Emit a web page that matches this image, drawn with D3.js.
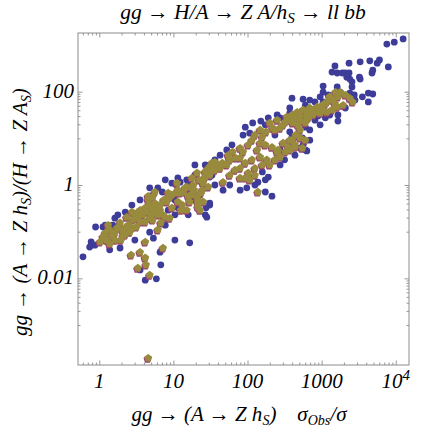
<!DOCTYPE html>
<html><head><meta charset="utf-8">
<script src="https://cdn.jsdelivr.net/npm/d3@7"></script>
<style>
body{margin:0;background:#fff}
svg text{font-family:"Liberation Serif","Times New Roman",Tinos,"Noto Serif","DejaVu Serif",FreeSerif,serif;font-style:italic;fill:#000}
</style>
</head><body><svg id="c" width="443" height="432"></svg>
<script>
// log10 of the values
const blueLogX = [3.88,3.98,4.10,3.18,3.37,3.52,3.65,3.78,3.75,3.90,3.69,3.68,3.14,3.21,3.28,3.32,3.37,3.34,3.38,3.41,3.51,3.52,3.02,3.21,3.41,3.02,3.09,3.25,3.38,3.44,3.55,3.63,3.69,3.63,3.45,2.60,2.75,2.84,2.91,3.02,2.61,2.75,2.91,2.95,3.22,3.22,2.74,2.61,2.75,2.80,2.71,2.60,2.78,1.97,2.07,2.18,1.94,2.37,2.57,2.61,2.28,2.40,2.57,2.71,2.78,1.72,1.29,1.56,1.49,2.20,2.28,2.14,1.99,2.24,2.33,1.49,1.43,1.67,1.18,1.09,0.98,0.79,0.85,0.68,0.66,1.52,1.49,1.45,1.02,1.22,0.21,0.93,1.04,1.20,-0.05,0.05,0.18,-0.11,-0.13,-0.22,-0.06,0.77,0.63,0.52,0.55,1.06,1.02,1.22,0.73,0.82,0.83,0.62,0.77,0.55,1.44,1.29,2.50,2.44,
  0.08,0.25,0.35,0.44,0.55,0.68,0.89,1.06,1.29,1.43,1.63,1.79,2.03,2.24,2.44,2.57,2.78,2.98,0.14,0.28,0.48,0.68,0.89,1.02,1.20,1.36,1.56,1.76,1.90,2.10,2.24,2.44,2.64,2.84,2.98,3.11,3.32,2.84,3.05];
const blueLogY = [3.02,3.06,3.13,2.55,2.61,2.64,2.66,2.68,2.61,2.53,2.46,2.40,2.42,2.40,2.40,2.40,2.40,2.31,2.27,2.21,2.31,2.27,2.12,2.10,2.10,1.99,1.93,1.99,1.97,1.93,1.89,1.97,1.95,1.78,1.82,1.86,1.84,1.82,1.78,1.78,1.44,1.33,1.39,1.48,1.50,1.37,1.01,0.90,0.86,0.73,0.79,1.03,0.75,1.24,1.33,1.37,1.07,1.07,1.14,0.92,1.44,1.50,1.54,1.46,1.24,0.75,0.43,0.54,0.17,0.28,0.17,0.06,-0.06,-0.15,-0.24,-0.43,-0.64,-0.11,0.11,0.06,0.04,-0.06,-0.15,-0.24,-0.36,0.21,-0.39,-0.69,-0.32,-0.15,-0.71,-0.54,0.00,0.04,-0.90,-0.90,-0.86,-1.22,-1.33,-1.54,-1.29,-0.47,-0.49,-0.75,-0.60,-0.49,-1.18,-1.24,-1.14,-1.44,-1.71,-2.04,-2.01,-1.82,-0.49,-0.32,0.54,0.75,
  -0.86,-0.64,-0.58,-0.43,-0.32,-0.06,0.11,0.15,0.21,0.43,0.64,0.86,1.11,1.29,1.44,1.65,1.71,1.89,-1.39,-1.35,-1.18,-1.01,-0.86,-0.64,-0.64,-0.21,0.00,0.00,-0.11,0.00,0.11,0.43,0.64,0.96,1.29,1.50,1.65,1.18,1.44];
const goldLogX = [3.25,3.11,3.07,3.01,2.94,2.84,2.75,2.67,2.60,3.42,3.29,3.21,3.14,3.07,2.98,2.88,2.80,2.71,2.61,2.74,2.64,2.60,1.32,1.43,1.54,1.63,1.72,1.80,1.90,1.97,2.01,2.03,2.13,2.17,2.24,2.33,2.40,2.44,2.48,2.57,2.71,2.78,2.17,2.30,2.40,2.53,2.48,2.80,2.34,2.14,1.90,1.76,1.67,1.39,1.47,1.32,1.40,1.33,2.17,2.26,2.10,1.56,1.49,1.25,1.40,1.25,1.18,1.05,1.09,0.95,1.22,1.33,1.36,0.79,0.71,0.59,0.51,0.37,0.86,0.91,1.18,0.44,0.48,0.55,0.62,0.68,0.75,0.66,0.72,0.79,0.72,0.62,0.50,0.41,0.35,0.29,0.21,0.14,0.08,0.01,0.12,0.28,0.36,0.83,0.79,0.62,0.86,0.55,0.43,0.62,0.63,0.52,0.68,0.93,1.06,1.16,1.24,1.33,1.06,0.89,0.95,1.27,1.37,1.40,1.10,0.66,
  0.05,0.10,0.17,0.24,0.31,0.39,0.45,0.52,0.58,0.64,0.71,0.77,0.82,0.87,0.93,0.98,1.04,1.13,1.20,1.28,1.35,1.43,1.49,1.56,1.12,0.98,0.82,0.68,0.55,0.44,0.32,0.21,0.14,0.66,0.75,
  1.90,2.01,2.06,2.10,2.20,2.25,2.37,2.44,2.51,2.57,2.64,2.71,1.94,1.84,1.76,1.66,1.60,1.45,1.52,1.74,2.30,2.37,2.51,2.57,2.64,2.20,2.10,1.97,1.83,1.90,2.06,2.55,2.41,2.71,2.65,
  2.87,2.95,3.05,3.15,3.22,3.32,3.18,3.01,2.91,2.82,2.78,2.68,3.38,3.19];
const goldLogY = [1.99,1.89,1.78,1.71,1.67,1.65,1.61,1.56,1.50,1.78,1.71,1.67,1.61,1.56,1.54,1.50,1.46,1.39,1.33,0.79,0.81,0.96,0.26,0.17,0.32,0.36,0.43,0.71,0.58,0.47,0.26,0.11,0.75,0.90,0.86,0.81,0.71,0.60,0.90,0.96,1.01,0.96,1.18,1.33,1.39,1.46,1.29,1.54,1.22,-0.15,0.15,0.21,0.06,-0.11,-0.04,-0.26,-0.36,-0.47,0.60,0.54,0.36,0.49,0.39,0.15,0.04,-0.06,-0.04,0.04,-0.17,-0.26,-0.36,-0.32,-0.54,-0.47,-0.49,-0.58,-0.60,-0.69,-0.64,-0.36,-0.54,-0.58,-0.64,-0.54,-0.49,-0.43,-0.39,-0.32,-0.26,-0.64,-0.75,-0.79,-0.90,-1.01,-1.07,-1.18,-1.03,-0.96,-1.03,-1.22,-0.86,-0.81,-0.90,-0.81,-0.96,-1.22,-1.35,-1.44,-1.50,-1.56,-1.71,-1.78,-1.93,-0.17,-0.11,-0.06,-0.21,-0.39,-0.36,-0.69,-0.71,0.00,-0.17,0.06,-0.54,-3.71,
  -1.11,-1.18,-1.09,-0.92,-0.96,-0.86,-0.75,-0.71,-0.64,-0.58,-0.62,-0.54,-0.43,-0.32,-0.28,-0.21,-0.17,-0.15,-0.24,-0.11,0.11,0.28,0.21,0.32,-0.43,-0.49,-0.54,-0.71,-0.79,-0.92,-1.09,-1.18,-1.26,-0.24,-0.15,
  0.79,0.86,0.96,1.07,1.03,1.14,1.18,1.22,1.35,1.39,1.44,1.48,0.71,0.58,0.54,0.47,0.43,0.32,0.47,0.64,0.43,0.54,0.71,0.75,0.86,0.43,0.21,0.15,0.32,0.36,0.54,0.81,0.75,1.18,1.07,
  1.61,1.65,1.74,1.82,1.89,1.93,1.74,1.61,1.56,1.44,1.33,1.29,1.86,1.99];

const xTickValues = [1,10,100,1000,10000];
const xTickLabels = ["1","10","100","1000","10^4"];
const yTickValues = [0.01,1,100];
const yTickLabels = ["0.01","1","100"];

const blue = blueLogX.map((lx,i)=>({x:Math.pow(10,lx), y:Math.pow(10,blueLogY[i])}));
const gold = goldLogX.map((lx,i)=>({x:Math.pow(10,lx), y:Math.pow(10,goldLogY[i])}));

const L=78,R=409,T=33,B=365;
const FONT='"Liberation Serif","Times New Roman",Tinos,"Noto Serif","DejaVu Serif",FreeSerif,serif';
const svg = d3.select("#c");
const x = d3.scaleLog().domain([0.516,15100]).range([L,R]);
const y = d3.scaleLog().domain([1.39e-4,1807]).range([B,T]);

const xMinor=[]; for(let e=-1;e<=4;e++) for(let k=2;k<=9;k++){const v=k*Math.pow(10,e); if(v>=0.516&&v<=15100) xMinor.push(v);}
const yMinor=[]; for(let e=-4;e<=2;e+=2) for(let k=1;k<=9;k++){const v=k*Math.pow(10,e-1); if(v>=1.39e-4&&v<=1807) yMinor.push(v);}

const frameCol="#8c8c8c";
function styleAxis(g){g.select(".domain").remove(); g.selectAll("line").attr("stroke",frameCol).attr("stroke-width",0.9); g.selectAll("text").remove();}
svg.append("g").attr("transform",`translate(0,${B})`).call(d3.axisBottom(x).tickValues(xTickValues).tickSize(-4.5)).call(styleAxis);
svg.append("g").attr("transform",`translate(0,${B})`).call(d3.axisBottom(x).tickValues(xMinor).tickSize(-2.5)).call(styleAxis);
svg.append("g").attr("transform",`translate(0,${T})`).call(d3.axisTop(x).tickValues(xTickValues).tickSize(-4.5)).call(styleAxis);
svg.append("g").attr("transform",`translate(0,${T})`).call(d3.axisTop(x).tickValues(xMinor).tickSize(-2.5)).call(styleAxis);
svg.append("g").attr("transform",`translate(${L},0)`).call(d3.axisLeft(y).tickValues(yTickValues).tickSize(-4.5)).call(styleAxis);
svg.append("g").attr("transform",`translate(${L},0)`).call(d3.axisLeft(y).tickValues(yMinor).tickSize(-2.5)).call(styleAxis);
svg.append("g").attr("transform",`translate(${R},0)`).call(d3.axisRight(y).tickValues(yTickValues).tickSize(-4.5)).call(styleAxis);
svg.append("g").attr("transform",`translate(${R},0)`).call(d3.axisRight(y).tickValues(yMinor).tickSize(-2.5)).call(styleAxis);
svg.append("rect").attr("x",L).attr("y",T).attr("width",R-L).attr("height",B-T).attr("fill","none").attr("stroke",frameCol).attr("stroke-width",1);

const plot = svg.append("g");
plot.selectAll("circle.b").data(blue).join("circle").attr("class","b")
  .attr("cx",d=>x(d.x)).attr("cy",d=>y(d.y)).attr("r",3.4).attr("fill","#3d3d99");
function pent(r){let p="";for(let i=0;i<5;i++){const a=-Math.PI/2+i*2*Math.PI/5;p+=(i?"L":"M")+(r*Math.cos(a)).toFixed(2)+","+(r*Math.sin(a)).toFixed(2);}return p+"Z";}
plot.selectAll("path.m").data(gold).join("path").attr("class","m")
  .attr("d",pent(4.2)).attr("transform",d=>`translate(${x(d.x)-0.7},${y(d.y)+1.2})`).attr("fill","#993d71");
plot.selectAll("path.g").data(gold).join("path").attr("class","g")
  .attr("d",pent(4.2)).attr("transform",d=>`translate(${x(d.x)},${y(d.y)})`).attr("fill","#998b3d");

function txt(){return svg.append("text").attr("font-family",FONT).attr("font-style","italic");}
const tf=21;
xTickValues.forEach((v,i)=>{
  const t=txt().attr("x",x(v)).attr("y",388).attr("text-anchor","middle").attr("font-size",tf);
  const s=xTickLabels[i];
  if(s.includes("^")){const [b,e]=s.split("^"); t.append("tspan").text(b); t.append("tspan").attr("dy",-8).attr("font-size",15).text(e);}
  else t.text(s);
});
yTickValues.forEach((v,i)=>{
  txt().attr("x",74).attr("y",y(v)+6).attr("text-anchor","end").attr("font-size",tf).text(yTickLabels[i]);
});

const title=txt().attr("x",243).attr("y",19).attr("text-anchor","middle").attr("font-size",21.5);
title.append("tspan").text("gg → H/A → Z A/h");
title.append("tspan").attr("dy",4).attr("font-size",15).text("S");
title.append("tspan").attr("dy",-4).text(" → ll bb");

const xl=txt().attr("x",239).attr("y",421).attr("text-anchor","middle").attr("font-size",21);
xl.append("tspan").text("gg → (A → Z h");
xl.append("tspan").attr("dy",4).attr("font-size",14).text("S");
xl.append("tspan").attr("dy",-4).text(")\u2003σ");
xl.append("tspan").attr("dy",4).attr("font-size",14).text("Obs");
xl.append("tspan").attr("dy",-4).text("/σ");

const yl=txt().attr("transform","translate(27,212) rotate(-90)").attr("text-anchor","middle").attr("font-size",21);
yl.append("tspan").text("gg → (A → Z h");
yl.append("tspan").attr("dy",4).attr("font-size",14).text("S");
yl.append("tspan").attr("dy",-4).text(")/(H → Z A");
yl.append("tspan").attr("dy",4).attr("font-size",14).text("S");
yl.append("tspan").attr("dy",-4).text(")");
</script></body></html>
